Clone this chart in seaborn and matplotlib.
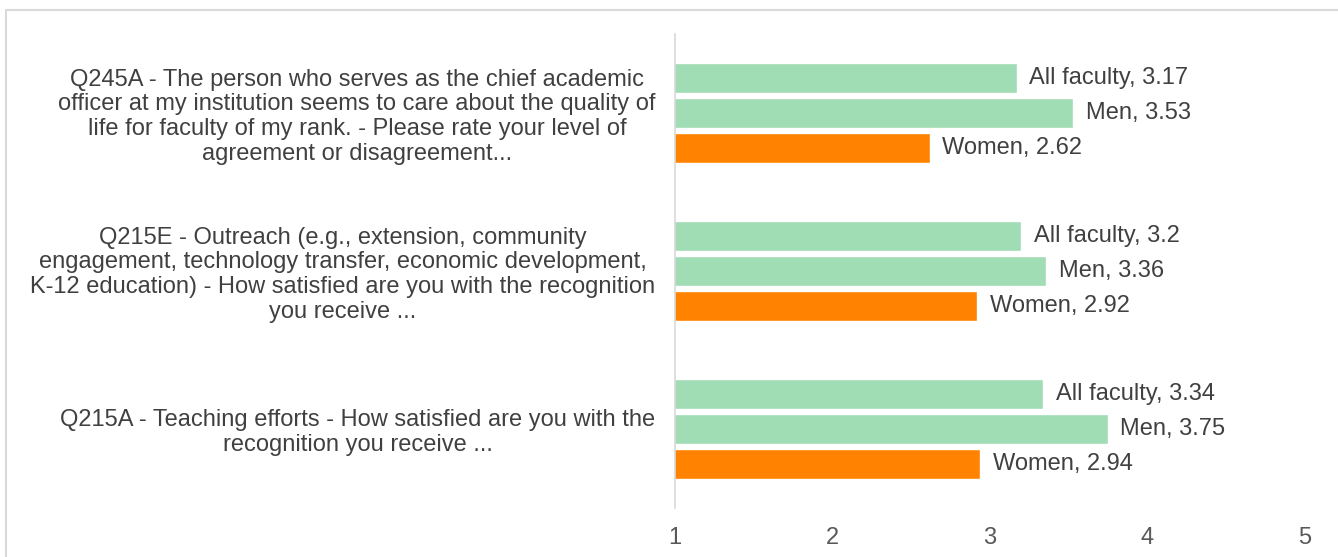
import pandas as pd
import seaborn as sns
import matplotlib.pyplot as plt
from matplotlib.patches import Rectangle

# Values
questions = [
    "Q245A - The person who serves as the chief academic\n"
    "officer at my institution seems to care about the quality of\n"
    "life for faculty of my rank. - Please rate your level of\n"
    "agreement or disagreement...",
    "Q215E - Outreach (e.g., extension, community\n"
    "engagement, technology transfer, economic development,\n"
    "K-12 education) - How satisfied are you with the recognition\n"
    "you receive ...",
    "Q215A - Teaching efforts - How satisfied are you with the\n"
    "recognition you receive ...",
]
groups = ["All faculty", "Men", "Women"]
all_faculty = [3.17, 3.2, 3.34]
men = [3.53, 3.36, 3.75]
women = [2.62, 2.92, 2.94]
x_ticks = [1, 2, 3, 4, 5]

rows = []
for g, vals in zip(groups, [all_faculty, men, women]):
    for q, v in zip(questions, vals):
        rows.append({"question": q, "group": g, "value": v})
df = pd.DataFrame(rows)

sns.set_theme(style="white")
plt.rcParams["font.family"] = ["Liberation Sans", "DejaVu Sans"]

text_color = "#404040"
palette = {"All faculty": "#A0DCB4", "Men": "#A0DCB4", "Women": "#FF8200"}

fig = plt.figure(figsize=(13.38, 5.57), dpi=100)
ax = fig.add_axes([0.5045, 0.088, 0.4705, 0.851])

sns.barplot(data=df, x="value", y="question", hue="group", order=questions,
            hue_order=groups, palette=palette, orient="h", width=0.665,
            gap=0.14, saturation=1, ax=ax, legend=False)

# data labels at the end of each bar
for g, cont in zip(groups, ax.containers):
    for bar in cont:
        v = bar.get_width()
        ax.annotate(f"{g}, {v:g}", (v, bar.get_y() + bar.get_height() / 2),
                    xytext=(9, 0), textcoords="offset points",
                    va="center", ha="left", fontsize=17, color=text_color)

ax.set_xlim(1, 5)
ax.set_ylim(2.5, -0.5)
ax.set_xticks(x_ticks)
ax.set_xlabel("")
ax.set_ylabel("")
ax.tick_params(axis="x", length=0, pad=14, labelsize=17, labelcolor="#595959")
ax.tick_params(axis="y", length=0, pad=14, labelsize=17, labelcolor=text_color)
for lab in ax.get_yticklabels():
    lab.set_multialignment("center")
    lab.set_linespacing(1.16)

for s in ["top", "right", "bottom"]:
    ax.spines[s].set_visible(False)
ax.spines["left"].set_color("#D9D9D9")
ax.spines["left"].set_linewidth(1.2)

# light chart border
fig.patches.append(Rectangle((0.0045, -0.01), 1.0, 0.992, transform=fig.transFigure,
                             fill=False, edgecolor="#D9D9D9", linewidth=1.5))

fig.savefig("out.png", dpi=100)
